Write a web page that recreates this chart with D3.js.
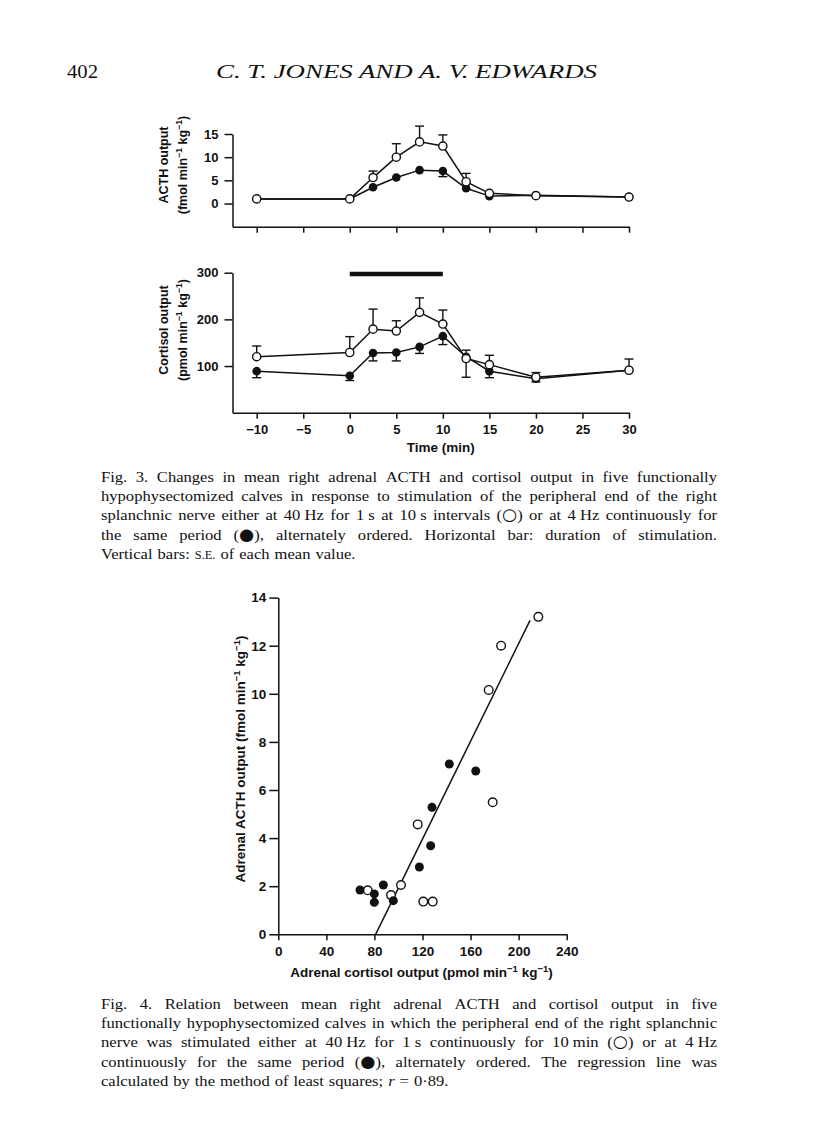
<!DOCTYPE html>
<html><head><meta charset="utf-8">
<script src="https://cdn.jsdelivr.net/npm/d3@7"></script>
<style>body{margin:0;background:#fff}svg{display:block}</style>
</head><body><svg id="c" width="816" height="1141"></svg>
<script>
// ---------- Fig. 3 data ----------
const times = [-10, 0, 2.5, 5, 7.5, 10, 12.5, 15, 20, 30];
const timeTicks = [-10, -5, 0, 5, 10, 15, 20, 25, 30];
const acthTicks = [0, 5, 10, 15];
const cortTicks = [100, 200, 300];
// ACTH (fmol/min/kg); SE sign: + up, - down
const acthOpen = [1.0, 1.0, 5.6, 10.0, 13.3, 12.4, 4.7, 2.2, 1.7, 1.4];
const acthOpenSE = [0, 0, 1.4, 2.9, 3.4, 2.4, 1.8, 0, 0, 0];
const acthFilled = [1.0, 1.0, 3.5, 5.6, 7.2, 7.0, 3.3, 1.6, 1.8, 1.4];
const acthFilledSE = [0, 0, 0, 0, 0, -1.2, 0, 0, 0, 0];
// Cortisol (pmol/min/kg)
const cortOpen = [120, 129, 179, 175, 215, 190, 116, 103, 76, 91];
const cortOpenSE = [23, 34, 43, 22, 31, 30, -40, 20, 10, 24];
const cortFilled = [89, 79, 128, 129, 141, 164, 120, 89, 73, 91];
const cortFilledSE = [-14, -10, -17, -18, -14, -18, 14, -14, -7, 0];
const stimStart = 0, stimEnd = 10, stimLevel = 297;

// ---------- Fig. 4 data ----------
const scatOpenX = [216.4, 185.4, 175.1, 178.4, 116.0, 74.4, 102.1, 93.8, 120.7, 128.5];
const scatOpenY = [13.2, 12.0, 10.16, 5.49, 4.57, 1.83, 2.05, 1.63, 1.36, 1.36];
const scatFilledX = [142.3, 164.3, 127.9, 126.8, 117.4, 68.0, 87.4, 79.9, 79.9, 95.7];
const scatFilledY = [7.08, 6.79, 5.28, 3.68, 2.80, 1.84, 2.05, 1.68, 1.33, 1.40];
const cortAxisTicks = [0, 40, 80, 120, 160, 200, 240];
const acthAxisTicks = [0, 2, 4, 6, 8, 10, 12, 14];
const regSlope = 0.1016, regIntercept = -8.23, regRange = [81, 209.5];

// ---------- text ----------
const fig3Lines = [
 "Fig. 3. Changes in mean right adrenal ACTH and cortisol output in five functionally",
 "hypophysectomized calves in response to stimulation of the peripheral end of the right",
 "splanchnic nerve either at 40\u00a0Hz for 1\u00a0s at 10\u00a0s intervals (\u25cb) or at 4\u00a0Hz continuously for",
 "the same period (\u25cf), alternately ordered. Horizontal bar: duration of stimulation.",
 "Vertical bars: S.E. of each mean value."];
const fig4Lines = [
 "Fig. 4. Relation between mean right adrenal ACTH and cortisol output in five",
 "functionally hypophysectomized calves in which the peripheral end of the right splanchnic",
 "nerve was stimulated either at 40\u00a0Hz for 1\u00a0s continuously for 10\u00a0min (\u25cb) or at 4\u00a0Hz",
 "continuously for the same period (\u25cf), alternately ordered. The regression line was",
 "calculated by the method of least squares; r = 0\u00b789."];

const svg = d3.select("#c");
svg.append("rect").attr("width", 816).attr("height", 1141).attr("fill", "#fff");
const ink = "#111";
const sans = "'Liberation Sans', Arial, sans-serif";
const serif = "'Liberation Serif', 'Times New Roman', serif";

// header
svg.append("text").attr("x", 67).attr("y", 78).attr("font-family", serif).attr("font-size", 18)
  .attr("fill", ink).attr("textLength", 31).attr("lengthAdjust", "spacingAndGlyphs").text("402");
svg.append("text").attr("x", 216).attr("y", 78).attr("font-family", serif).attr("font-style", "italic")
  .attr("font-size", 18).attr("fill", ink).attr("textLength", 381).attr("lengthAdjust", "spacingAndGlyphs")
  .text("C. T. JONES AND A. V. EDWARDS");

function styleAxis(g, fs) {
  g.selectAll("path,line").attr("stroke", ink).attr("stroke-width", 1.5);
  g.selectAll("text").attr("fill", ink).attr("font-family", sans).attr("font-weight", "bold").attr("font-size", fs);
}

// ---------- Fig. 3 ----------
const x3 = d3.scaleLinear().domain([-12.6, 30]).range([232.5, 629]);
const yA = d3.scaleLinear().domain([-5, 15]).range([226.7, 134]);
const yC = d3.scaleLinear().domain([0, 300]).range([412.7, 272.7]);

const gAy = svg.append("g").attr("transform", "translate(232.5,0)")
  .call(d3.axisLeft(yA).tickValues(acthTicks).tickSize(8).tickSizeOuter(0).tickPadding(6));
styleAxis(gAy, 13);
const gAx = svg.append("g").attr("transform", "translate(0,226.7)")
  .call(d3.axisBottom(x3).tickValues(timeTicks).tickSize(6).tickSizeOuter(0).tickFormat(""));
styleAxis(gAx, 13);
const gCy = svg.append("g").attr("transform", "translate(232.5,0)")
  .call(d3.axisLeft(yC).tickValues(cortTicks).tickSize(8).tickSizeOuter(0).tickPadding(6));
styleAxis(gCy, 13);
const gCx = svg.append("g").attr("transform", "translate(0,412.7)")
  .call(d3.axisBottom(x3).tickValues(timeTicks).tickSize(6).tickSizeOuter(0).tickPadding(6));
styleAxis(gCx, 13);

// stimulation bar
svg.append("line").attr("x1", x3(stimStart)).attr("x2", x3(stimEnd))
  .attr("y1", yC(stimLevel)).attr("y2", yC(stimLevel)).attr("stroke", ink).attr("stroke-width", 4.5);

function drawPanel(y, openV, openSE, fillV, fillSE) {
  const g = svg.append("g");
  const line = d3.line().x((d, i) => x3(times[i])).y(d => y(d));
  [fillV, openV].forEach(v => g.append("path").datum(v).attr("d", line)
    .attr("fill", "none").attr("stroke", ink).attr("stroke-width", 1.5));
  [[openV, openSE], [fillV, fillSE]].forEach(([v, se]) => {
    v.forEach((d, i) => {
      if (!se[i]) return;
      const xx = x3(times[i]), y1 = y(d), y2 = y(d + se[i]);
      g.append("line").attr("x1", xx).attr("x2", xx).attr("y1", y1).attr("y2", y2).attr("stroke", ink).attr("stroke-width", 1.4);
      g.append("line").attr("x1", xx - 4.5).attr("x2", xx + 4.5).attr("y1", y2).attr("y2", y2).attr("stroke", ink).attr("stroke-width", 1.4);
    });
  });
  g.selectAll(".f").data(fillV).enter().append("circle").attr("cx", (d, i) => x3(times[i])).attr("cy", d => y(d))
    .attr("r", 4.3).attr("fill", ink);
  g.selectAll(".o").data(openV).enter().append("circle").attr("cx", (d, i) => x3(times[i])).attr("cy", d => y(d))
    .attr("r", 4.1).attr("fill", "#fff").attr("stroke", ink).attr("stroke-width", 1.4);
}
drawPanel(yA, acthOpen, acthOpenSE, acthFilled, acthFilledSE);
drawPanel(yC, cortOpen, cortOpenSE, cortFilled, cortFilledSE);

function unitLabel(sel, unit, fs) {
  const up = fs * 0.4;
  sel.append("tspan").text("(" + unit + " min");
  sel.append("tspan").attr("dy", -up).attr("font-size", fs * 0.7).text("\u22121");
  sel.append("tspan").attr("dy", up).text(" kg");
  sel.append("tspan").attr("dy", -up).attr("font-size", fs * 0.7).text("\u22121");
  sel.append("tspan").attr("dy", up).text(")");
}
function rotLabel(x, y, fs) {
  return svg.append("text").attr("transform", `translate(${x},${y}) rotate(-90)`).attr("text-anchor", "middle")
    .attr("font-family", sans).attr("font-weight", "bold").attr("font-size", fs).attr("fill", ink);
}
rotLabel(167.5, 165, 12.5).text("ACTH output");
unitLabel(rotLabel(186.5, 165, 12.5), "fmol", 12.5);
rotLabel(167.5, 330, 12.5).text("Cortisol output");
unitLabel(rotLabel(186.5, 330, 12.5), "pmol", 12.5);
svg.append("text").attr("x", x3(10) - 2).attr("y", 452).attr("text-anchor", "middle").attr("font-family", sans)
  .attr("font-weight", "bold").attr("font-size", 13.5).attr("fill", ink).text("Time (min)");

// ---------- Fig. 4 ----------
const x4 = d3.scaleLinear().domain([0, 240]).range([278.3, 566.7]);
const y4 = d3.scaleLinear().domain([0, 14]).range([934.3, 597.6]);
const g4y = svg.append("g").attr("transform", "translate(278.3,0)")
  .call(d3.axisLeft(y4).tickValues(acthAxisTicks).tickSize(9).tickSizeOuter(0).tickPadding(3));
styleAxis(g4y, 13.5);
const g4x = svg.append("g").attr("transform", "translate(0,934.3)")
  .call(d3.axisBottom(x4).tickValues(cortAxisTicks).tickSize(6).tickSizeOuter(0).tickPadding(6));
styleAxis(g4x, 13.5);

svg.append("line").attr("x1", x4(regRange[0])).attr("x2", x4(regRange[1]))
  .attr("y1", y4(regSlope * regRange[0] + regIntercept)).attr("y2", y4(regSlope * regRange[1] + regIntercept))
  .attr("stroke", ink).attr("stroke-width", 1.5);
svg.selectAll(".so").data(scatOpenX).enter().append("circle").attr("cx", d => x4(d)).attr("cy", (d, i) => y4(scatOpenY[i]))
  .attr("r", 4.3).attr("fill", "#fff").attr("stroke", ink).attr("stroke-width", 1.4);
svg.selectAll(".sf").data(scatFilledX).enter().append("circle").attr("cx", d => x4(d)).attr("cy", (d, i) => y4(scatFilledY[i]))
  .attr("r", 4.5).attr("fill", ink);

const t4x = svg.append("text").attr("x", 421.5).attr("y", 977).attr("text-anchor", "middle").attr("font-family", sans)
  .attr("font-weight", "bold").attr("font-size", 13.5).attr("fill", ink);
t4x.append("tspan").text("Adrenal cortisol output ");
unitLabel(t4x, "pmol", 13.5);
const t4y = rotLabel(245, 759, 13.5);
t4y.append("tspan").text("Adrenal ACTH output ");
unitLabel(t4y, "fmol", 13.5);

// ---------- captions (justified) ----------
function caption(lines, x0, x1, y0, lh, fs, sx) {
  const g = svg.append("g").attr("transform", `translate(${x0},0) scale(${sx},1)`);
  const W = (x1 - x0) / sx;
  lines.forEach((ln, li) => {
    const words = ln.split(" ");
    const els = words.map(w => {
      const t = g.append("text").attr("y", y0 + li * lh).attr("font-family", serif).attr("font-size", fs).attr("fill", ink);
      const m = w.match(/^(.*?)([\u25cb\u25cf])(.*)$/);
      if (w === "S.E.") t.append("tspan").attr("font-size", fs * 0.75).text("S.E.");
      else if (w === "r") t.append("tspan").attr("font-style", "italic").text("r");
      else if (m) {
        t.append("tspan").text(m[1]);
        t.append("tspan").attr("font-family", "'DejaVu Sans', sans-serif").attr("font-size", fs * 1.05).text(m[2]);
        t.append("tspan").text(m[3]);
      }
      else t.text(w);
      return t;
    });
    const widths = els.map(e => e.node().getComputedTextLength());
    const total = d3.sum(widths);
    const last = li === lines.length - 1;
    const gap = last ? fs * 0.3 : (W - total) / (words.length - 1);
    let x = 0;
    els.forEach((e, i) => { e.attr("x", x); x += widths[i] + gap; });
  });
}
caption(fig3Lines, 101, 717, 482, 19.2, 15.5, 1.07);
caption(fig4Lines, 101, 717, 1009, 19.2, 15.5, 1.07);
</script></body></html>
